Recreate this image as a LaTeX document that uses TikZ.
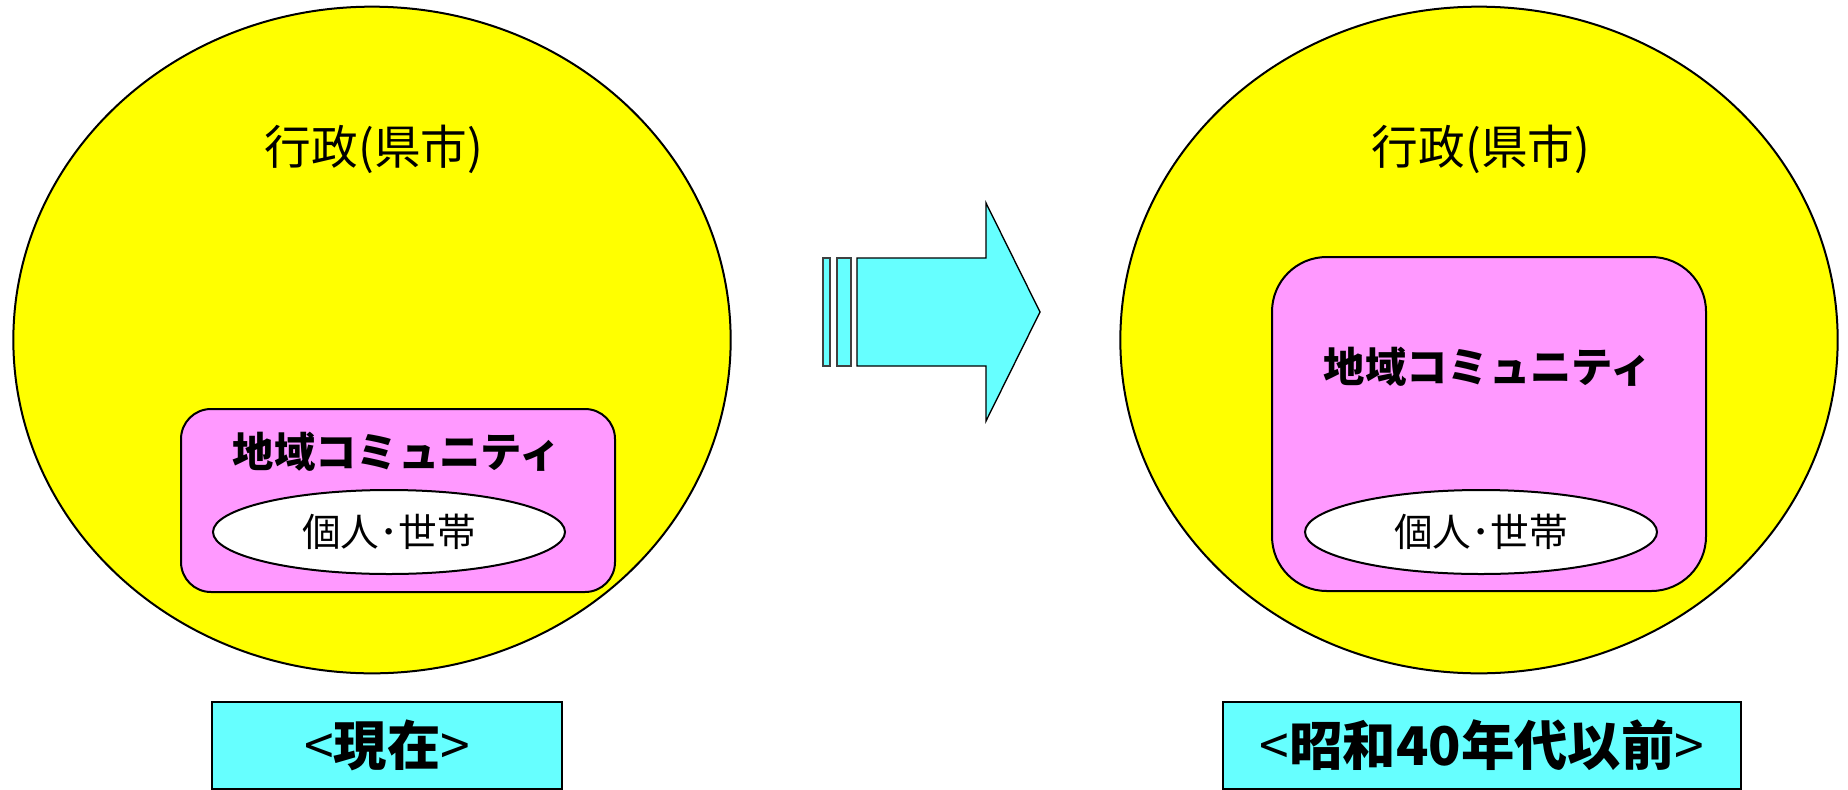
\documentclass[tikz,border=0pt]{standalone}
\usepackage{fontspec}
\setmainfont{Noto Sans CJK JP}
\usetikzlibrary{shapes.geometric}
\definecolor{gyousei}{RGB}{255,255,0}
\definecolor{chiiki}{RGB}{255,153,255}
\definecolor{jidai}{RGB}{102,255,255}
\tikzset{
  gyouseiell/.style={ellipse, draw=black, line width=1.5pt, fill=gyousei, inner sep=0pt, minimum width=538pt, minimum height=500pt},
  chiikibox/.style={rectangle, draw=black, line width=1.5pt, fill=chiiki, inner sep=0pt, minimum width=325.5pt},
  kojinell/.style={ellipse, draw=black, line width=1.5pt, fill=white, inner sep=0pt, minimum width=264pt, minimum height=63pt, font=\fontsize{29}{33}\selectfont},
  jidaibox/.style={rectangle, draw=black, line width=1.2pt, fill=jidai, inner sep=0pt, minimum height=65.25pt, font=\bfseries\fontsize{40}{46}\selectfont},
  gyouseitxt/.style={inner sep=0pt, font=\fontsize{35}{40}\selectfont},
  chiikitxt/.style={inner sep=0pt, font=\bfseries\fontsize{31}{36}\selectfont},
  arrowpart/.style={draw=black!75, line width=1pt, fill=jidai}
}
\newcommand{\lbr}{{\mdseries <}}
\newcommand{\rbr}{{\mdseries >}}
\begin{document}
\begin{tikzpicture}[x=0.75pt,y=0.75pt,yscale=-1,xscale=1]
    \useasboundingbox (0,0) rectangle (1848,789);
    \clip (0,0) rectangle (1848,789);

    % left: present
    \node [gyouseiell] (gyouseiL) at (372,340) {};
    \node [gyouseitxt] (gyouseiLtxt) at (374,149) {行政(県市)};
    \node [chiikibox, rounded corners=22.5pt, minimum height=137.25pt] (chiikiL) at (398,500.5) {};
    \node [chiikitxt] (chiikiLtxt) at (397,452) {地域コミュニティ};
    \node [kojinell] (kojinL) at (389,532) {個人･世帯};

    % right: before showa 40s
    \node [gyouseiell] (gyouseiR) at (1479,340) {};
    \node [gyouseitxt] (gyouseiRtxt) at (1481,149) {行政(県市)};
    \node [chiikibox, rounded corners=41pt, minimum height=250.5pt] (chiikiR) at (1489,424) {};
    \node [chiikitxt] (chiikiRtxt) at (1488,367) {地域コミュニティ};
    \node [kojinell] (kojinR) at (1481,532) {個人･世帯};

    % big arrow
    \draw [arrowpart] (823,258) rectangle (830,366);
    \draw [arrowpart] (837,258) rectangle (851,366);
    \draw [arrowpart, draw=black] (857,258) -- (986,258) -- (986,203) -- (1040,312) -- (986,421) -- (986,366) -- (857,366) -- cycle;

    % era labels
    \node [jidaibox, minimum width=262.5pt] (genzai) at (387,745.5) {\lbr 現在\rbr};
    \node [jidaibox, minimum width=388.5pt] (showa) at (1482,745.5) {\lbr 昭和40年代以前\rbr};
\end{tikzpicture}
\end{document}
